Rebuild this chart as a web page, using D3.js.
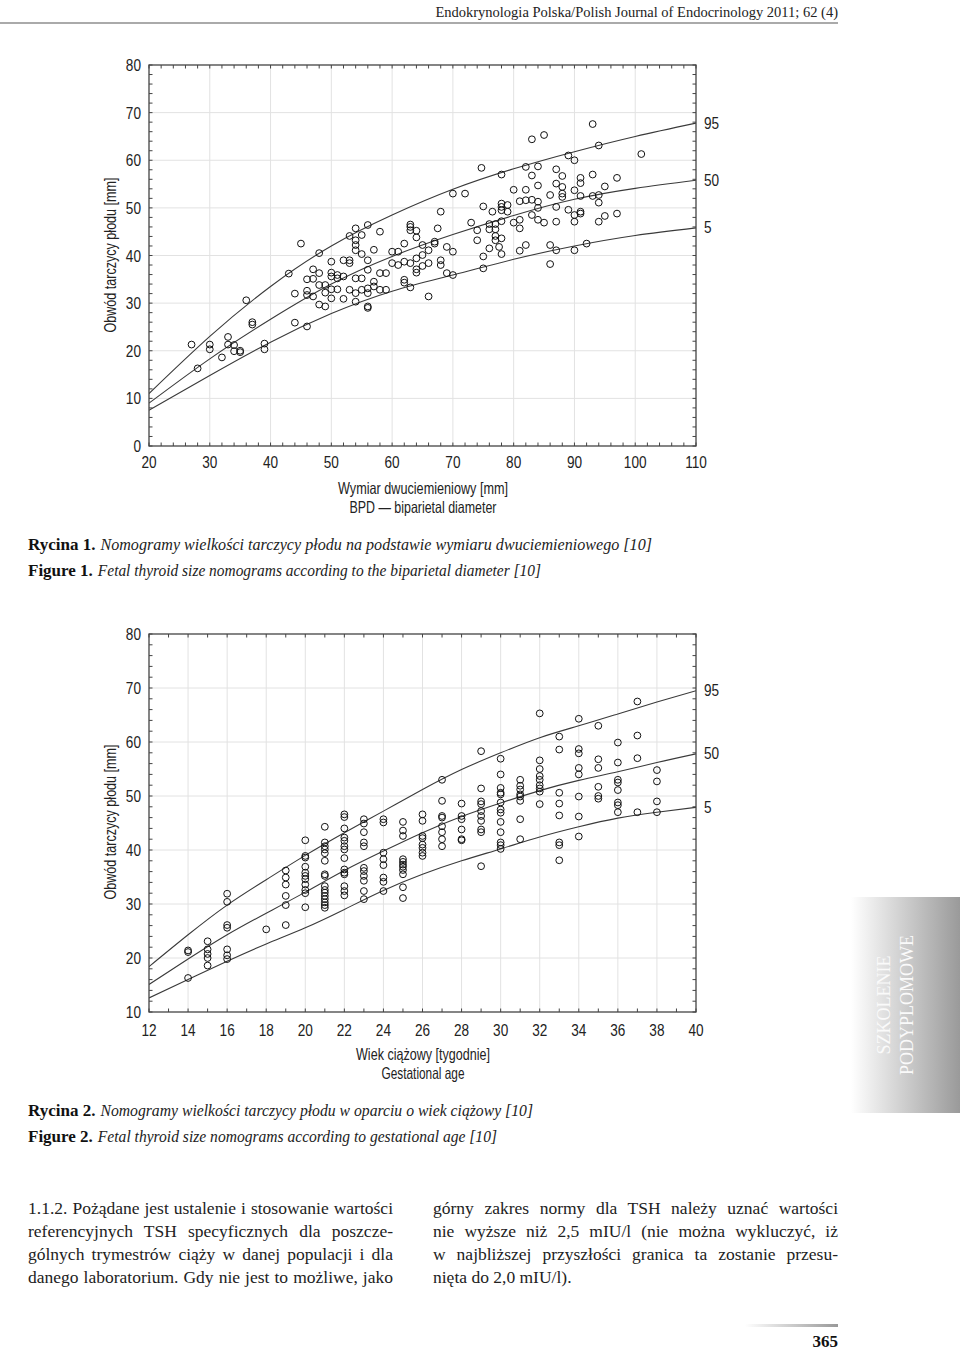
<!DOCTYPE html>
<html><head><meta charset="utf-8">
<script src="https://cdn.jsdelivr.net/npm/d3@7"></script>
<style>
html,body{margin:0;padding:0;background:#fff;}
svg{display:block;}
</style></head>
<body>
<script>
// ---------- DATA ----------
const bpdTicks = [20,30,40,50,60,70,80,90,100,110];
const sizeTicksTop = [0,10,20,30,40,50,60,70,80];
const bpdCurveX = [20,30,40,50,60,70,80,90,100,110];
const bpdP95 = [11.0,23.0,33.5,42.0,48.5,53.9,58.2,61.8,65.0,67.8];
const bpdP50 = [9.0,18.3,26.6,34.0,39.8,44.4,48.4,51.8,54.1,55.8];
const bpdP5  = [7.5,14.8,21.8,27.8,32.5,35.9,39.2,42.0,44.2,45.8];
const bpdPoints = [
 [27,21.3],[28,16.3],[30,21.3],[30,20.3],[32,18.6],[33,22.9],[33,21.3],[34,21.2],[34,19.9],[35,20],[35,19.7],
 [37,26],[37,25.5],[39,21.5],[39,20.3],[44,25.9],[46,25.1],
 [36,30.6],[43,36.2],[45,42.5],[48,40.5],[44,32],
 [46,35],[46,32.6],[46,31.7],[47,37.1],[47,35.1],[47,31.4],[48,36.3],[48,33.8],[48,29.7],[49,29.3],[49,32.2],[49,33.8],
 [50,38.7],[50,36.4],[50,35.6],[50,32.9],[50,31],[51,35.9],[51,35.2],[51,32.9],[52,35.6],[52,39],[52,30.9],
 [53,44.1],[53,39],[53,38.4],[53,32.8],[54,45.7],[54,43.2],[54,42.2],[54,41.1],[54,35.2],[54,32.1],[54,30.3],
 [55,44.3],[55,40.3],[55,35.2],[55,32.8],[56,46.4],[56,39],[56,37],[56,33.1],[56,32.1],[56,29.3],[56,29],
 [57,41.2],[57,34.5],[57,33.5],[58,45],[58,36.3],[58,32.8],[59,36.3],[59,32.8],[60,40.8],[60,38.4],[61,40.8],[61,38],
 [62,42.5],[62,38.7],[62,34.9],[62,34.3],[63,46.5],[63,46],[63,45.3],[63,38.4],[63,33.3],
 [64,43.8],[64,45.2],[64,39.4],[64,37.1],[64,36.4],[65,37.8],[65,42.2],[65,40.1],[66,31.4],[66,38.4],[66,41.1],
 [67,42.9],[67,42.5],[67.5,45.7],[68,39],[68,38],[68,49.2],[69,41.8],[69,36.3],[70,40.8],[70,35.9],[70,53],
 [72,53],[73,46.9],[74,45.3],[74,43.2],[75,50.3],[75,39.8],[75,37.3],[76,46.6],[76,45.5],[76,41.5],[76.5,49.2],
 [77,46.6],[77,45.5],[77,44.1],[77,43.2],[77.6,41.8],[78,50.9],[78,50.2],[78,49.5],[78,43.6],[78,40.3],[78,47.2],
 [79,50.6],[79,49.2],[80,53.8],[80,46.9],[81,51.4],[81,47.5],[81,45.7],[81,41],[82,53.8],[82,51.6],[82,42.2],
 [83,51.7],[83,48.5],[84,54.7],[84,51.3],[84,50],[84,47.5],[85,46.9],[86,52.7],[86,42.2],[86,38.2],
 [87,55.1],[87,50.2],[87,47.1],[87,41.1],[88,54.4],[88,53],[88,52.3],[89,49.6],[90,53.7],[90,48.5],[90,47.1],[90,41.1],
 [91,55.2],[91,52.5],[91,49.2],[91,48.8],[92,42.5],[93,52.5],[94,52.7],[94,51.1],[94,47.1],[95,54.5],[95,48.3],[97,48.8],
 [74.7,58.4],[78,57],[82,58.6],[83,64.4],[83,56.8],[84,58.7],[85,65.3],[87,58.1],[88,56.7],[89,61],[90,60],
 [91,56.3],[93,67.6],[93,57],[94,63.1],[97,56.3],[101,61.3]
];

const weekTicks = [12,14,16,18,20,22,24,26,28,30,32,34,36,38,40];
const sizeTicksBottom = [10,20,30,40,50,60,70,80];
const weekCurveX = [12,14,16,18,20,22,24,26,28,30,32,34,36,38,40];
const weekP95 = [18.4,24.3,29.8,34.5,39.0,43.2,47.2,51.2,54.9,58.0,60.8,63.0,65.2,67.4,69.5];
const weekP50 = [15.1,19.8,24.3,28.3,32.2,36.2,39.8,43.2,46.2,48.7,51.0,52.9,54.5,56.2,57.8];
const weekP5  = [12.6,16.0,19.4,22.6,25.6,29.0,32.5,35.5,38.0,40.2,42.4,44.3,45.9,47.0,47.9];
const weekCols = [14,15,16,18,19,20,21,22,23,24,25,26,27,28,29,30,31,32,33,34,35,36,37,38];
const weekVals = [
 [21.4,21.1,16.3],
 [23.1,21.6,20.75,20,18.6],
 [31.9,30.4,26.1,25.6,21.6,20.5,19.8],
 [25.3],
 [36.2,34.9,33.6,31.5,29.8,26.1],
 [41.8,38.9,38.6,36.9,35.8,35.2,34.6,33.6,32.6,32,29.4],
 [44.3,41.4,40.7,40.1,39.4,38,35.5,35.2,33.3,32.6,32.1,31.5,30.9,30.3,29.8,29.3],
 [46.6,46.1,44,42.3,41.7,40.7,40.1,38.5,36.4,35.8,35.5,33.3,32.4,31.6],
 [45.7,44.9,43.3,41.4,40.7,36.7,36.1,35.2,34.3,32.4,30.9],
 [45.7,45.1,39.5,38.3,37.2,34.9,34.1,32.4],
 [45.2,43.6,42.6,38.3,37.8,37.3,36.9,36.3,35.5,33.1,31.1],
 [46.6,45.4,42.6,42.2,41,40.4,39.5,38.9],
 [53,49.1,46.3,46,44.4,43.3,42,40.7],
 [48.6,46.3,45.7,43.8,42,41.8],
 [58.3,51.4,49,48.5,47.2,46.3,45.4,43.8,43.3,37],
 [56.9,54,51.5,50.6,50.3,48.8,47.5,46.9,45.2,43.3,41.4,40.9,40.2],
 [53,51.9,51.2,50.3,49.9,49.1,45.7,42],
 [65.3,56.6,55,53.7,53,52,51.4,50.8,48.5],
 [61,58.6,50.6,48.6,46.4,41.4,40.9,38.1],
 [64.3,58.7,57.9,55.2,54,49.9,46.2,42.5],
 [63,56.8,55.2,51.7,50,49.5],
 [59.9,56.2,53,52.5,51.1,48.8,48.3,47],
 [67.5,61.2,57,47],
 [54.8,52.7,49,47]
];
const percentileLabels = ["95","50","5"];

// ---------- TEXT ----------
const headerText = "Endokrynologia Polska/Polish Journal of Endocrinology 2011; 62 (4)";
const yTitle = "Obwód tarczycy płodu [mm]";
const topXTitle = ["Wymiar dwuciemieniowy [mm]","BPD — biparietal diameter"];
const botXTitle = ["Wiek ciążowy [tygodnie]","Gestational age"];
const captions = [
 {b:"Rycina 1.", i:"Nomogramy wielkości tarczycy płodu na podstawie wymiaru dwuciemieniowego [10]", y:550, end:652},
 {b:"Figure 1.", i:"Fetal thyroid size nomograms according to the biparietal diameter [10]", y:576, end:541},
 {b:"Rycina 2.", i:"Nomogramy wielkości tarczycy płodu w oparciu o wiek ciążowy [10]", y:1116, end:533},
 {b:"Figure 2.", i:"Fetal thyroid size nomograms according to gestational age [10]", y:1142, end:497}
];
const leftCol = ["1.1.2. Pożądane jest ustalenie i stosowanie wartości",
 "referencyjnych TSH specyficznych dla poszcze-",
 "gólnych trymestrów ciąży w danej populacji i dla",
 "danego laboratorium. Gdy nie jest to możliwe, jako"];
const rightCol = ["górny zakres normy dla TSH należy uznać wartości",
 "nie wyższe niż 2,5 mIU/l (nie można wykluczyć, iż",
 "w najbliższej przyszłości granica ta zostanie przesu-",
 "nięta do 2,0 mIU/l)."];

// ---------- DRAW ----------
const W = 960, H = 1351;
const svg = d3.select("body").append("svg").attr("width", W).attr("height", H);
const sans = "'Liberation Sans',Arial,Helvetica,sans-serif";
const serif = "'Liberation Serif','DejaVu Serif',serif";
const COND = 0.8;
const FS = 17;

function condense(sel, factor){
  sel.each(function(){
    const w = this.getComputedTextLength();
    d3.select(this).attr("textLength", w*factor).attr("lengthAdjust","spacingAndGlyphs");
  });
  return sel;
}

const defs = svg.append("defs");
const g1 = defs.append("linearGradient").attr("id","tabGrad").attr("x1","0").attr("x2","1").attr("y1","0").attr("y2","0");
g1.append("stop").attr("offset","0").attr("stop-color","#ffffff");
g1.append("stop").attr("offset","1").attr("stop-color","#9a9a9a");
const g2 = defs.append("linearGradient").attr("id","lineGrad").attr("x1","0").attr("x2","1").attr("y1","0").attr("y2","0");
g2.append("stop").attr("offset","0").attr("stop-color","#ffffff");
g2.append("stop").attr("offset","1").attr("stop-color","#999999");

// header
svg.append("text").attr("x",838).attr("y",17).attr("text-anchor","end")
  .attr("font-family",serif).attr("font-size",14.5).attr("fill","#222").text(headerText);
svg.append("line").attr("x1",0).attr("x2",838).attr("y1",23).attr("y2",23)
  .attr("stroke","#aaa").attr("stroke-width",2);

function drawChart(cfg){
  const x = d3.scaleLinear().domain(cfg.xDomain).range([149,696]);
  const y = d3.scaleLinear().domain(cfg.yDomain).range([cfg.yBottom, cfg.yTop]);
  const g = svg.append("g");
  // grid
  g.append("g").selectAll("line").data(cfg.xTicks.slice(1,-1)).join("line")
    .attr("x1",d=>x(d)).attr("x2",d=>x(d)).attr("y1",cfg.yTop).attr("y2",cfg.yBottom)
    .attr("stroke","#e2e2e2").attr("stroke-width",1);
  g.append("g").selectAll("line").data(cfg.yTicks.slice(1,-1)).join("line")
    .attr("y1",d=>y(d)).attr("y2",d=>y(d)).attr("x1",149).attr("x2",696)
    .attr("stroke","#e2e2e2").attr("stroke-width",1);
  // minor ticks inside, all four sides
  const xMinor = d3.range(cfg.xDomain[0], cfg.xDomain[1]+1e-9, cfg.xMinor);
  const yMinor = d3.range(cfg.yDomain[0], cfg.yDomain[1]+1e-9, cfg.yMinor);
  const tk = 3.5;
  [cfg.yTop, cfg.yBottom].forEach((yy,i)=>{
    g.append("g").selectAll("line").data(xMinor).join("line")
      .attr("x1",d=>x(d)).attr("x2",d=>x(d)).attr("y1",yy).attr("y2",i===0?yy+tk:yy-tk)
      .attr("stroke","#444").attr("stroke-width",1);
  });
  [149,696].forEach((xx,i)=>{
    g.append("g").selectAll("line").data(yMinor).join("line")
      .attr("y1",d=>y(d)).attr("y2",d=>y(d)).attr("x1",xx).attr("x2",i===0?xx+tk:xx-tk)
      .attr("stroke","#444").attr("stroke-width",1);
  });
  // curves
  const line = d3.line().x(d=>x(d[0])).y(d=>y(d[1])).curve(d3.curveNatural);
  const clip = "clip"+cfg.id;
  defs.append("clipPath").attr("id",clip).append("rect")
    .attr("x",149).attr("y",cfg.yTop).attr("width",547).attr("height",cfg.yBottom-cfg.yTop);
  cfg.curves.forEach(c=>{
    g.append("path").attr("d", line(cfg.curveX.map((v,i)=>[v,c[i]])))
      .attr("fill","none").attr("stroke","#3a3a3a").attr("stroke-width",1.1)
      .attr("clip-path",`url(#${clip})`);
  });
  // points
  g.append("g").selectAll("circle").data(cfg.points).join("circle")
    .attr("cx",d=>x(d[0])).attr("cy",d=>y(d[1])).attr("r",3.4)
    .attr("fill","none").attr("stroke","#111").attr("stroke-width",1);
  // frame
  g.append("rect").attr("x",149).attr("y",cfg.yTop).attr("width",547).attr("height",cfg.yBottom-cfg.yTop)
    .attr("fill","none").attr("stroke","#444").attr("stroke-width",1.3);
  // tick labels
  condense(g.append("g").selectAll("text").data(cfg.xTicks).join("text")
    .attr("x",d=>x(d)).attr("y",cfg.yBottom+cfg.xlOff).attr("text-anchor","middle")
    .attr("font-family",sans).attr("font-size",FS).attr("fill","#222").text(d=>d), COND);
  condense(g.append("g").selectAll("text").data(cfg.yTicks).join("text")
    .attr("x",141).attr("y",d=>y(d)+6).attr("text-anchor","end")
    .attr("font-family",sans).attr("font-size",FS).attr("fill","#222").text(d=>d), COND);
  // percentile labels
  cfg.curves.forEach((c,i)=>{
    condense(g.append("text").attr("x",704).attr("y",y(c[c.length-1])+5.5)
      .attr("font-family",sans).attr("font-size",FS).attr("fill","#222").text(percentileLabels[i]), COND);
  });
  // titles
  cfg.xTitle.forEach((t,i)=>{
    g.append("text").attr("x",423).attr("y",cfg.xTitleY + i*19).attr("text-anchor","middle")
      .attr("font-family",sans).attr("font-size",16.5).attr("fill","#222").text(t)
      .attr("textLength",cfg.xTitleW[i]).attr("lengthAdjust","spacingAndGlyphs");
  });
  g.append("text").attr("transform",`translate(116,${cfg.yTitleC}) rotate(-90)`).attr("text-anchor","middle")
    .attr("font-family",sans).attr("font-size",16.5).attr("fill","#222").text(yTitle)
    .attr("textLength",155).attr("lengthAdjust","spacingAndGlyphs");
}

drawChart({id:"a", xDomain:[20,110], yDomain:[0,80], yTop:65, yBottom:446,
  xTicks:bpdTicks, yTicks:sizeTicksTop, xMinor:2, yMinor:2, xlOff:22,
  curveX:bpdCurveX, curves:[bpdP95,bpdP50,bpdP5], points:bpdPoints,
  xTitle:topXTitle, xTitleW:[170,147], xTitleY:494, yTitleC:255});

const weekPoints = [];
weekCols.forEach((w,i)=>weekVals[i].forEach(v=>weekPoints.push([w,v])));
drawChart({id:"b", xDomain:[12,40], yDomain:[10,80], yTop:634, yBottom:1012,
  xTicks:weekTicks, yTicks:sizeTicksBottom, xMinor:1, yMinor:2, xlOff:24,
  curveX:weekCurveX, curves:[weekP95,weekP50,weekP5], points:weekPoints,
  xTitle:botXTitle, xTitleW:[134,83], xTitleY:1060, yTitleC:822});

// captions
captions.forEach(c=>{
  const b = svg.append("text").attr("x",28).attr("y",c.y).attr("font-family",serif)
    .attr("font-weight","bold").attr("font-size",17).attr("fill","#111").text(c.b);
  const bw = b.node().getComputedTextLength();
  const sx = 28 + bw + 5;
  svg.append("text").attr("x",sx).attr("y",c.y).attr("font-family",serif).attr("font-style","italic")
    .attr("font-size",17).attr("fill","#222").attr("textLength", c.end - sx)
    .attr("lengthAdjust","spacingAndGlyphs").text(c.i);
});

// body text (justified)
function para(lines, x0, x1, lastJust){
  lines.forEach((t,i)=>{
    const el = svg.append("text").attr("x",x0).attr("y",1214 + i*23).attr("font-family",serif)
      .attr("font-size",17.5).attr("fill","#222").text(t);
    const last = i===lines.length-1 && !lastJust;
    if(last) return;
    const w = el.node().getComputedTextLength();
    const target = x1 - x0;
    const spaces = (t.match(/ /g)||[]).length;
    if (w < target && spaces>0) el.attr("word-spacing", (target-w)/spaces);
    else el.attr("textLength",target).attr("lengthAdjust","spacingAndGlyphs");
  });
}
para(leftCol, 28, 393, true);
para(rightCol, 433, 838, false);

// footer
svg.append("rect").attr("x",745).attr("y",1324).attr("width",93).attr("height",3).attr("fill","url(#lineGrad)");
svg.append("text").attr("x",838).attr("y",1347).attr("text-anchor","end").attr("font-family",serif)
  .attr("font-weight","bold").attr("font-size",17).attr("fill","#111").text("365");

// side tab
svg.append("rect").attr("x",851).attr("y",897).attr("width",109).attr("height",216).attr("fill","url(#tabGrad)");
[["SZKOLENIE",890],["PODYPLOMOWE",913]].forEach(([t,xx])=>{
  svg.append("text").attr("transform",`translate(${xx},1005) rotate(-90)`).attr("text-anchor","middle")
    .attr("font-family",serif).attr("font-size",18).attr("fill","#fafafa").text(t);
});
</script>
</body></html>
